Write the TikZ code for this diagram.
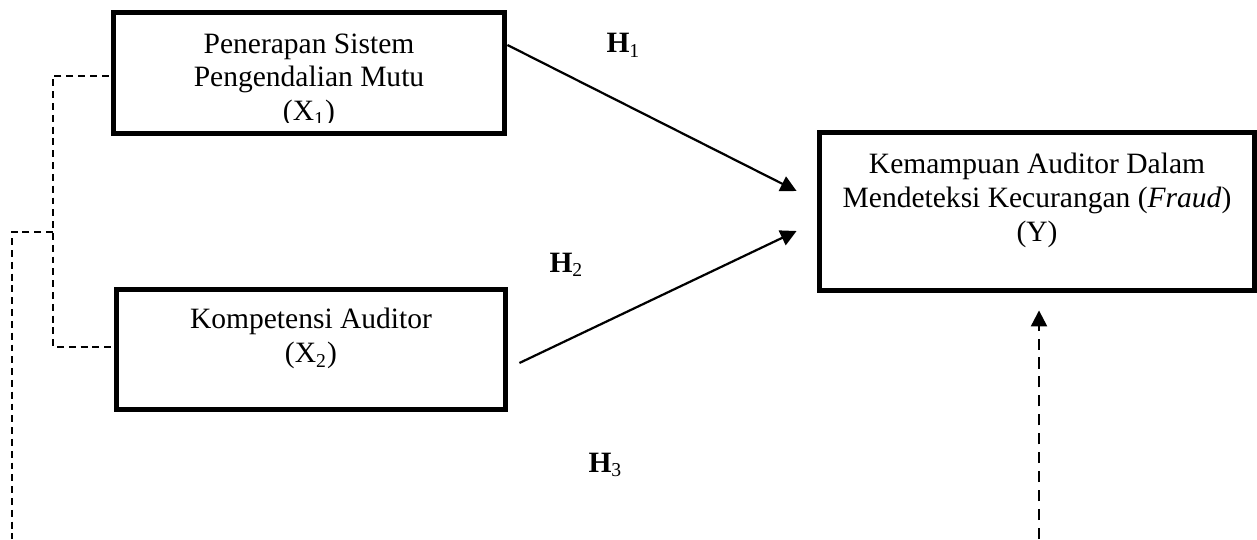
\documentclass[tikz,border=0pt]{standalone}
\usepackage{fontspec}
\setmainfont{Liberation Serif}
\usetikzlibrary{arrows.meta}
\tikzset{
  box/.style={draw,line width=2pt,inner sep=0pt},
  txt/.style={align=center,inner sep=0pt,anchor=north,font=\fontsize{12}{13.8}\selectfont},
  hyp/.style={inner sep=0pt,anchor=base west,font=\fontsize{12}{13.8}\selectfont},
  link/.style={line width=0.9pt,-{Triangle[length=6.5pt,width=6.5pt]}},
  dashlink/.style={line width=0.9pt,dash pattern=on 4.5pt off 3.2pt,-{Triangle[length=6.5pt,width=6.5pt]}},
  dashline/.style={line width=0.6pt,dash pattern=on 2.8pt off 2pt},
}
\begin{document}
\begin{tikzpicture}[x=0.4065pt,y=-0.4065pt]
\useasboundingbox (0,0) rectangle (1257,539);
% boxes
\node[box,minimum width=158.9pt,minimum height=49.2pt] (x1) at (309,73) {};
\node[box,minimum width=158.1pt,minimum height=48.8pt] (x2) at (311,349.5) {};
\node[box,minimum width=176.8pt,minimum height=64.2pt] (y) at (1037,211.5) {};
\begin{scope}
\clip (116,15) rectangle (502,123);
\node[txt] (x1t) at (309,33) {Penerapan Sistem\\Pengendalian Mutu\\(X\textsubscript{1})};
\end{scope}
\node[txt] (x2t) at (311,308) {Kompetensi Auditor\\(X\textsubscript{2})};
\node[txt] (yt) at (1037,153) {Kemampuan Auditor Dalam\\Mendeteksi Kecurangan (\textit{Fraud})\\(Y)};
% hypotheses
\node[hyp] (h1) at (606,53) {\textbf{H}\textsubscript{1}};
\node[hyp] (h2) at (549,272) {\textbf{H}\textsubscript{2}};
\node[hyp] (h3) at (588,472) {\textbf{H}\textsubscript{3}};
% arrows
\draw[link] ([shift={(0.5,-28)}]x1.east) -- ([shift={(-20.5,-20.5)}]y.west);
\draw[link] ([shift={(11.5,13.5)}]x2.east) -- ([shift={(-20.5,19.5)}]y.west);
\coordinate (yb) at (1039,539);
\draw[dashlink] (yb) -- ([shift={(2,17.5)}]y.south);
% moderating lines
\draw[dashline] ([shift={(-2.5,3)}]x1.west) -| (53,347) -- ([shift={(-2.5,-2.5)}]x2.west);
\coordinate (jn) at (53,232);
\coordinate (xb) at (12,539);
\draw[dashline] (jn) -| (xb);
\end{tikzpicture}
\end{document}
